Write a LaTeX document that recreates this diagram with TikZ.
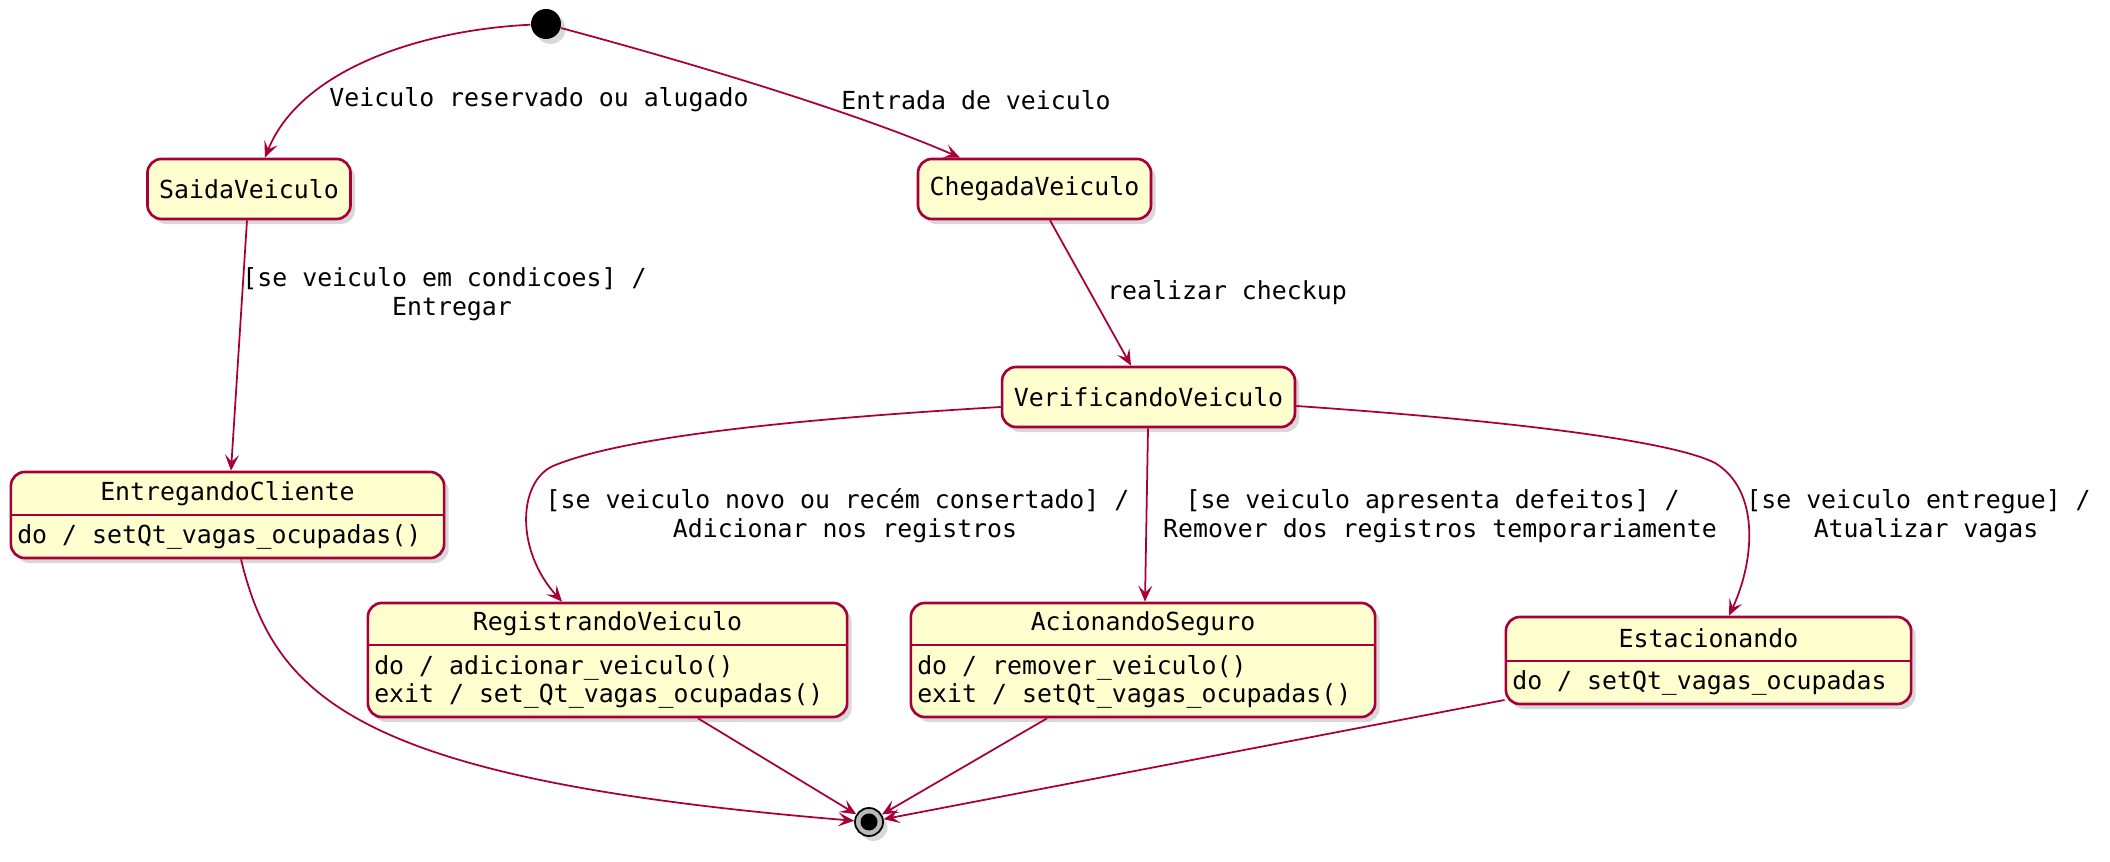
\documentclass[tikz,border=0pt]{standalone}
\usepackage{fontspec}
\setmainfont{DejaVu Sans Mono}
\usetikzlibrary{%
        arrows.meta,
        shadows
    }
\definecolor{umlred}{HTML}{A80036}
\definecolor{umlfill}{HTML}{FEFECE}
\tikzset{%
    umlshadow/.style={%
        drop shadow={shadow xshift=0.045cm, shadow yshift=-0.05cm, fill=black!30}
    },
    state/.style={%
        draw=umlred, fill=umlfill, line width=0.75pt, rounded corners=0.14cm,
        umlshadow
    },
    statename/.style={inner sep=0pt},
    statebody/.style={inner sep=0pt, anchor=west, align=left, xshift=0.07cm},
    divider/.style={umlred, line width=0.75pt},
    move/.style={%
        umlred, line width=0.5pt,
        -{Stealth[length=0.16cm, width=0.14cm, inset=0.07cm]}
    },
    guard/.style={inner sep=0pt, align=center}
}

\begin{document}
\begin{tikzpicture}[x=0.01cm, y=-0.01cm, font=\fontsize{7.07pt}{8.2pt}\selectfont]

    \useasboundingbox (0, 0) rectangle (2110, 862);

    %%%%%%%%%%%%
    % Pseudo states
    \node[circle, fill=black, minimum size=0.30cm, inner sep=0pt, umlshadow]
        (start) at (546, 24) {};
    \node[circle, draw=black, fill=gray!55, line width=0.5pt, minimum size=0.28cm,
        inner sep=0pt, umlshadow]
        (final) at (869, 822) {};
    \node[circle, fill=black, minimum size=0.17cm, inner sep=0pt]
        (finaldot) at (final.center) {};

    %%%%%%%%%%%%
    % Simple states
    \node[state, minimum width=1.96cm, minimum height=0.60cm] (saida)
        at (249, 189) {SaidaVeiculo};
    \node[state, minimum width=2.25cm, minimum height=0.60cm] (chegada)
        at (1034.5, 189) {ChegadaVeiculo};
    \node[state, minimum width=2.85cm, minimum height=0.60cm] (verificando)
        at (1148.5, 397) {VerificandoVeiculo};

    %%%%%%%%%%%%
    % States with activities
    \node[state, minimum width=4.33cm, minimum height=0.86cm] (entregando)
        at (227.5, 515) {};
    \draw[divider] (entregando.west |- 0, 515) -- (entregando.east |- 0, 515);
    \node[statename] (entregando-name) at (entregando.center |- 0, 494)
        {EntregandoCliente};
    \node[statebody] (entregando-body) at (entregando.west |- 0, 537)
        {do / setQt\_vagas\_ocupadas()};

    \node[state, minimum width=4.79cm, minimum height=1.14cm] (registrando)
        at (607.5, 660) {};
    \draw[divider] (registrando.west |- 0, 645) -- (registrando.east |- 0, 645);
    \node[statename] (registrando-name) at (registrando.center |- 0, 624)
        {RegistrandoVeiculo};
    \node[statebody] (registrando-body) at (registrando.west |- 0, 682)
        {do / adicionar\_veiculo()\\exit / set\_Qt\_vagas\_ocupadas()};

    \node[state, minimum width=4.64cm, minimum height=1.14cm] (acionando)
        at (1143, 660) {};
    \draw[divider] (acionando.west |- 0, 645) -- (acionando.east |- 0, 645);
    \node[statename] (acionando-name) at (acionando.center |- 0, 624)
        {AcionandoSeguro};
    \node[statebody] (acionando-body) at (acionando.west |- 0, 682)
        {do / remover\_veiculo()\\exit / setQt\_vagas\_ocupadas()};

    \node[state, minimum width=4.05cm, minimum height=0.87cm] (estacionando)
        at (1708.5, 660.5) {};
    \draw[divider] (estacionando.west |- 0, 661) -- (estacionando.east |- 0, 661);
    \node[statename] (estacionando-name) at (estacionando.center |- 0, 638)
        {Estacionando};
    \node[statebody] (estacionando-body) at (estacionando.west |- 0, 683)
        {do / setQt\_vagas\_ocupadas};

    %%%%%%%%%%%%
    % Transitions
    \draw[move] (start) .. controls (420, 30) and (300, 70) .. (saida.north -| 265, 0);
    \draw[move] (start) .. controls (680, 60) and (850, 110) .. (chegada.north -| 960, 0);
    \draw[move] (saida.south -| 247, 0) -- (entregando.north -| 231, 0);
    \draw[move] (chegada.south -| 1050, 0) -- (verificando.north -| 1131, 0);
    \draw[move] (verificando.west |- 0, 407)
        .. controls (780, 420) and (620, 438) .. (553, 466)
        .. controls (518, 482) and (515, 550) .. (registrando.north -| 562, 0);
    \draw[move] (verificando.south -| 1148, 0) -- (acionando.north -| 1145, 0);
    \draw[move] (verificando.east |- 0, 406)
        .. controls (1500, 420) and (1670, 440) .. (1715, 463)
        .. controls (1760, 490) and (1755, 560) .. (estacionando.north -| 1729, 0);
    \draw[move] (entregando.south -| 241, 0)
        .. controls (275, 700) and (360, 780) .. (final);
    \draw[move] (registrando.south -| 698, 0) -- (final);
    \draw[move] (acionando.south -| 1047, 0) -- (final);
    \draw[move] (estacionando.west |- 0, 700) -- (final);

    %%%%%%%%%%%%
    % Labels
    \node[guard] (guard-saida) at (539, 100) {Veiculo reservado ou alugado};
    \node[guard] (guard-chegada) at (976, 100) {Entrada de veiculo};
    \node[guard] (guard-entregar) at (452, 294)
        {[se veiculo em condicoes] /\phantom{x}\\Entregar};
    \node[guard] (guard-checkup) at (1227, 293) {realizar checkup};
    \node[guard] (guard-registrar) at (845, 516)
        {[se veiculo novo ou recém consertado] /\phantom{x}\\Adicionar nos registros};
    \node[guard] (guard-seguro) at (1440, 516)
        {[se veiculo apresenta defeitos] /\phantom{x}\\Remover dos registros temporariamente};
    \node[guard] (guard-estacionar) at (1926, 516)
        {[se veiculo entregue] /\phantom{x}\\Atualizar vagas};

\end{tikzpicture}
\end{document}
